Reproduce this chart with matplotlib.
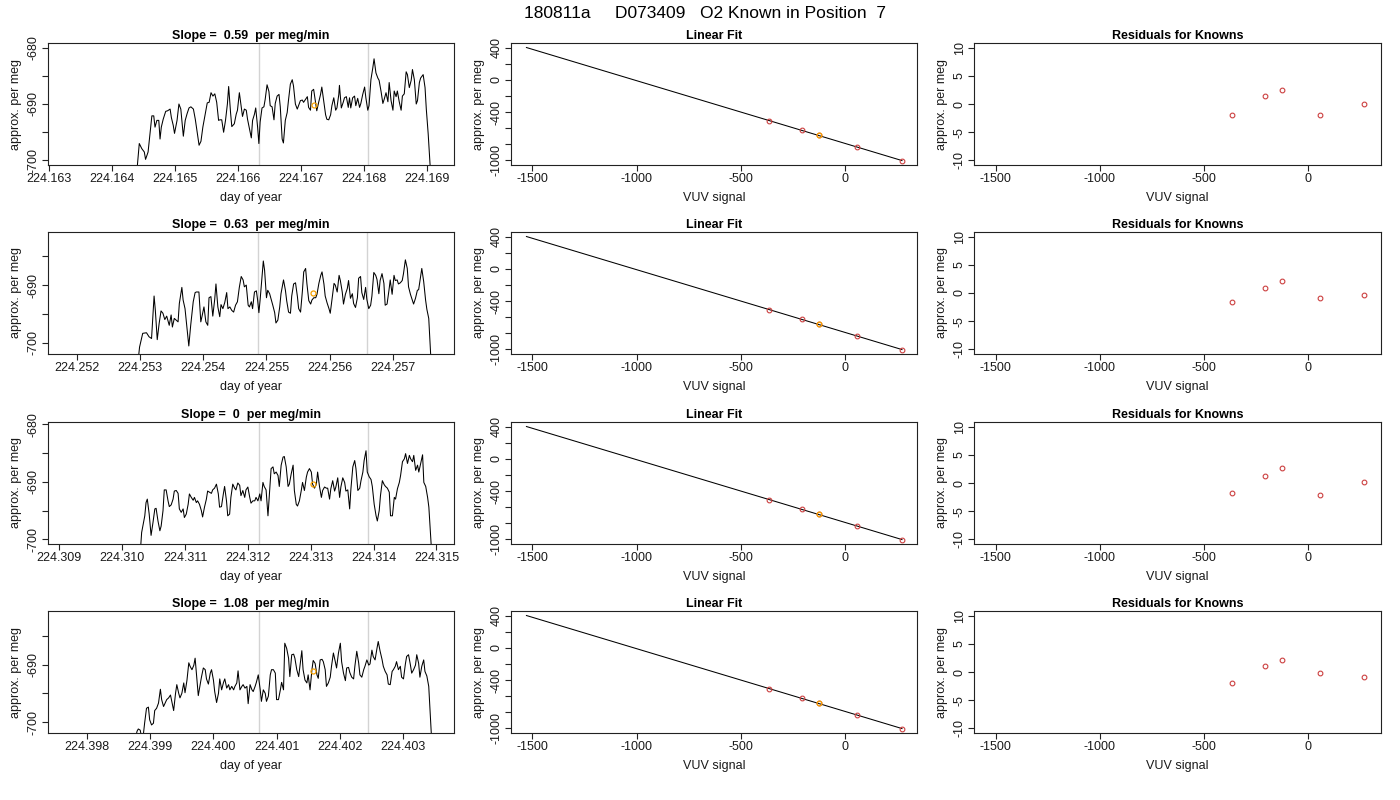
import matplotlib
matplotlib.use("Agg")
import matplotlib.pyplot as plt
import numpy as np

plt.rcParams['font.family'] = ['Liberation Sans', 'DejaVu Sans']

# ---------------- data ----------------
main_title = "180811a     D073409   O2 Known in Position  7"
slopes = ["0.59", "0.63", "0", "1.08"]

# time series (day of year, approx. per meg)
t1 = [224.16325, 224.16436, 224.16443, 224.16447, 224.16451, 224.16453, 224.16457, 224.16460, 224.16463, 224.16466,
      224.16468, 224.16471, 224.16474, 224.16476, 224.16478, 224.16481, 224.16485, 224.16488, 224.16492, 224.16494,
      224.16497, 224.16499, 224.16503, 224.16506, 224.16509, 224.16513, 224.16516, 224.16519, 224.16522, 224.16525,
      224.16529, 224.16532, 224.16535, 224.16538, 224.16541, 224.16544, 224.16548, 224.16551, 224.16554, 224.16557,
      224.16560, 224.16563, 224.16566, 224.16569, 224.16571, 224.16574, 224.16577, 224.16580, 224.16583, 224.16585,
      224.16588, 224.16590, 224.16594, 224.16597, 224.16599, 224.16602, 224.16605, 224.16607, 224.16610, 224.16613,
      224.16615, 224.16618, 224.16621, 224.16623, 224.16626, 224.16628, 224.16631, 224.16633, 224.16635, 224.16638,
      224.16641, 224.16643, 224.16646, 224.16649, 224.16651, 224.16654, 224.16657, 224.16659, 224.16662, 224.16665,
      224.16667, 224.16670, 224.16672, 224.16675, 224.16678, 224.16680, 224.16683, 224.16686, 224.16688, 224.16691,
      224.16694, 224.16696, 224.16699, 224.16702, 224.16704, 224.16707, 224.16710, 224.16712, 224.16715, 224.16717,
      224.16720, 224.16723, 224.16725, 224.16728, 224.16731, 224.16733, 224.16736, 224.16739, 224.16741, 224.16744,
      224.16747, 224.16749, 224.16752, 224.16755, 224.16757, 224.16760, 224.16761, 224.16764, 224.16767, 224.16769,
      224.16772, 224.16775, 224.16777, 224.16779, 224.16782, 224.16785, 224.16787, 224.16790, 224.16793, 224.16795,
      224.16798, 224.16801, 224.16803, 224.16806, 224.16808, 224.16811, 224.16814, 224.16816, 224.16819, 224.16822,
      224.16824, 224.16827, 224.16830, 224.16832, 224.16835, 224.16838, 224.16840, 224.16843, 224.16846, 224.16848,
      224.16851, 224.16853, 224.16856, 224.16859, 224.16861, 224.16864, 224.16867, 224.16869, 224.16872, 224.16875,
      224.16877, 224.16880, 224.16883, 224.16885, 224.16888, 224.16890, 224.16894, 224.16897, 224.16899, 224.16902,
      224.16905, 224.16912]
y1 = [-760.0, -706.0, -697.0, -697.9, -698.5, -699.8, -698.5, -695.3, -692.1, -692.1,
      -694.1, -692.9, -692.9, -696.2, -694.1, -692.7, -691.3, -691.2, -690.9, -692.4,
      -693.8, -695.2, -692.9, -690.0, -690.9, -695.7, -692.9, -691.7, -690.7, -690.5,
      -690.9, -692.7, -695.0, -697.3, -696.6, -694.1, -691.7, -689.8, -689.7, -688.0,
      -688.6, -688.2, -689.7, -692.9, -692.8, -692.8, -695.0, -692.9, -690.0, -686.9,
      -691.5, -694.0, -693.5, -691.8, -691.1, -688.0, -690.6, -692.2, -690.9, -691.1,
      -692.7, -694.4, -696.0, -692.9, -691.8, -690.7, -694.1, -697.0, -693.2, -690.7,
      -690.5, -689.2, -686.6, -687.8, -690.3, -690.5, -692.8, -689.9, -688.6, -688.3,
      -690.5, -696.2, -696.9, -692.9, -691.5, -689.4, -686.5, -685.7, -686.8, -690.0,
      -690.9, -690.3, -689.4, -689.3, -689.7, -689.2, -688.7, -690.6, -691.1, -687.7,
      -687.4, -689.7, -691.2, -689.7, -688.3, -687.0, -689.4, -691.9, -692.7, -692.8,
      -691.9, -690.3, -688.9, -691.1, -690.7, -688.3, -686.7, -690.7, -689.7, -688.9,
      -688.7, -690.6, -688.9, -690.7, -688.9, -688.6, -690.3, -689.0, -690.6, -689.9,
      -688.3, -687.0, -688.9, -691.1, -690.3, -685.7, -683.6, -682.0, -684.5, -685.4,
      -685.8, -687.7, -689.9, -689.2, -688.0, -689.6, -686.2, -689.4, -691.1, -687.7,
      -688.7, -687.7, -689.6, -691.1, -688.6, -688.2, -684.3, -684.8, -687.1, -685.8,
      -683.9, -685.7, -690.0, -689.4, -686.2, -685.4, -684.8, -687.1, -690.9, -695.3,
      -700.8, -720.0]

t2 = [224.25160, 224.25294, 224.25299, 224.25304, 224.25310, 224.25314, 224.25318, 224.25322, 224.25324, 224.25327,
      224.25330, 224.25333, 224.25336, 224.25339, 224.25342, 224.25346, 224.25349, 224.25351, 224.25354, 224.25357,
      224.25360, 224.25362, 224.25366, 224.25368, 224.25371, 224.25374, 224.25377, 224.25380, 224.25384, 224.25387,
      224.25389, 224.25393, 224.25396, 224.25398, 224.25401, 224.25404, 224.25407, 224.25409, 224.25412, 224.25415,
      224.25418, 224.25420, 224.25423, 224.25426, 224.25428, 224.25431, 224.25434, 224.25437, 224.25439, 224.25442,
      224.25445, 224.25448, 224.25451, 224.25454, 224.25457, 224.25460, 224.25463, 224.25465, 224.25468, 224.25471,
      224.25473, 224.25476, 224.25478, 224.25481, 224.25484, 224.25486, 224.25488, 224.25490, 224.25493, 224.25495,
      224.25497, 224.25500, 224.25502, 224.25505, 224.25507, 224.25510, 224.25513, 224.25515, 224.25518, 224.25521,
      224.25523, 224.25527, 224.25530, 224.25532, 224.25535, 224.25538, 224.25540, 224.25543, 224.25546, 224.25549,
      224.25551, 224.25554, 224.25557, 224.25559, 224.25562, 224.25564, 224.25567, 224.25570, 224.25572, 224.25575,
      224.25578, 224.25580, 224.25583, 224.25586, 224.25588, 224.25591, 224.25593, 224.25596, 224.25599, 224.25601,
      224.25604, 224.25607, 224.25609, 224.25612, 224.25615, 224.25617, 224.25620, 224.25622, 224.25625, 224.25628,
      224.25630, 224.25633, 224.25636, 224.25638, 224.25641, 224.25644, 224.25646, 224.25649, 224.25651, 224.25654,
      224.25657, 224.25659, 224.25662, 224.25665, 224.25667, 224.25670, 224.25673, 224.25675, 224.25678, 224.25680,
      224.25683, 224.25686, 224.25688, 224.25691, 224.25694, 224.25696, 224.25699, 224.25702, 224.25704, 224.25707,
      224.25709, 224.25712, 224.25715, 224.25717, 224.25720, 224.25723, 224.25725, 224.25728, 224.25731, 224.25733,
      224.25736, 224.25739, 224.25741, 224.25744, 224.25746, 224.25749, 224.25752, 224.25754, 224.25757, 224.25760,
      224.25766]
y2 = [-760.0, -706.0, -700.8, -698.4, -698.3, -699.0, -699.3, -691.9, -694.4, -699.5,
      -696.7, -694.5, -694.9, -696.0, -695.4, -697.0, -695.2, -697.3, -695.8, -696.1,
      -696.4, -693.2, -690.4, -692.6, -694.1, -697.3, -700.6, -697.0, -692.9, -691.3,
      -691.2, -691.2, -696.4, -695.4, -693.8, -696.4, -697.0, -692.2, -692.0, -695.4,
      -692.5, -689.8, -693.8, -695.5, -693.4, -694.1, -693.0, -691.3, -694.1, -693.8,
      -694.4, -694.7, -693.5, -692.9, -690.4, -688.5, -689.1, -690.3, -690.0, -693.5,
      -693.8, -692.9, -694.1, -691.2, -691.0, -692.6, -694.8, -692.5, -688.5, -685.8,
      -687.4, -692.2, -690.9, -691.5, -692.3, -693.5, -694.8, -696.6, -696.1, -693.8,
      -691.5, -689.1, -690.9, -692.7, -694.7, -694.9, -691.9, -689.8, -689.6, -692.0,
      -694.1, -694.7, -690.9, -687.7, -687.1, -689.7, -692.7, -693.3, -692.6, -692.2,
      -692.2, -691.6, -689.7, -688.3, -687.7, -689.8, -691.9, -693.1, -694.1, -694.9,
      -692.3, -689.7, -690.0, -691.2, -688.3, -689.2, -691.2, -693.3, -691.6, -690.6,
      -689.2, -692.3, -691.5, -693.2, -693.9, -692.2, -688.8, -688.5, -691.3, -692.5,
      -690.4, -692.5, -694.1, -693.5, -691.9, -687.8, -688.3, -689.0, -691.5, -689.2,
      -688.0, -689.7, -693.5, -693.3, -690.9, -689.1, -691.6, -688.3, -689.2, -689.1,
      -689.8, -689.6, -689.2, -688.0, -685.6, -687.1, -690.3, -691.6, -692.6, -693.3,
      -692.3, -690.9, -690.8, -688.5, -687.1, -689.4, -692.6, -694.2, -695.8, -702.0,
      -720.0]

t3 = [224.30890, 224.31024, 224.31031, 224.31034, 224.31036, 224.31038, 224.31040, 224.31043, 224.31046, 224.31049,
      224.31052, 224.31054, 224.31057, 224.31060, 224.31062, 224.31065, 224.31067, 224.31070, 224.31073, 224.31075,
      224.31078, 224.31081, 224.31083, 224.31086, 224.31089, 224.31091, 224.31094, 224.31097, 224.31099, 224.31102,
      224.31105, 224.31107, 224.31110, 224.31113, 224.31115, 224.31118, 224.31120, 224.31123, 224.31126, 224.31128,
      224.31131, 224.31134, 224.31136, 224.31139, 224.31142, 224.31144, 224.31147, 224.31150, 224.31153, 224.31155,
      224.31158, 224.31161, 224.31163, 224.31166, 224.31168, 224.31171, 224.31173, 224.31176, 224.31179, 224.31181,
      224.31184, 224.31187, 224.31189, 224.31192, 224.31195, 224.31197, 224.31200, 224.31203, 224.31205, 224.31208,
      224.31211, 224.31213, 224.31216, 224.31219, 224.31221, 224.31224, 224.31226, 224.31229, 224.31232, 224.31234,
      224.31237, 224.31240, 224.31242, 224.31245, 224.31248, 224.31250, 224.31253, 224.31256, 224.31258, 224.31261,
      224.31264, 224.31266, 224.31269, 224.31272, 224.31274, 224.31277, 224.31279, 224.31282, 224.31285, 224.31287,
      224.31290, 224.31293, 224.31295, 224.31298, 224.31301, 224.31303, 224.31306, 224.31309, 224.31311, 224.31314,
      224.31317, 224.31319, 224.31322, 224.31325, 224.31327, 224.31330, 224.31332, 224.31335, 224.31338, 224.31340,
      224.31343, 224.31346, 224.31348, 224.31351, 224.31354, 224.31356, 224.31359, 224.31362, 224.31364, 224.31367,
      224.31370, 224.31372, 224.31375, 224.31378, 224.31380, 224.31383, 224.31385, 224.31388, 224.31390, 224.31393,
      224.31396, 224.31398, 224.31401, 224.31404, 224.31406, 224.31409, 224.31411, 224.31414, 224.31417, 224.31419,
      224.31422, 224.31425, 224.31427, 224.31430, 224.31433, 224.31435, 224.31438, 224.31441, 224.31443, 224.31446,
      224.31449, 224.31451, 224.31454, 224.31457, 224.31459, 224.31462, 224.31464, 224.31467, 224.31470, 224.31472,
      224.31475, 224.31478, 224.31480, 224.31483, 224.31486, 224.31488, 224.31492, 224.31498]
y3 = [-760.0, -710.0, -698.8, -697.1, -695.9, -693.6, -693.0, -695.6, -699.3, -697.1,
      -694.7, -694.6, -696.8, -698.5, -697.7, -695.0, -691.4, -691.4, -693.3, -694.3,
      -694.0, -693.0, -691.6, -691.5, -692.0, -694.7, -695.3, -694.7, -696.2, -695.6,
      -693.9, -692.1, -692.7, -693.2, -692.7, -693.6, -693.3, -693.9, -695.0, -696.1,
      -694.4, -693.0, -691.6, -691.8, -692.0, -691.4, -691.1, -690.4, -692.1, -694.4,
      -694.3, -692.1, -690.8, -693.3, -695.9, -695.6, -692.7, -690.4, -691.1, -691.4,
      -690.2, -690.6, -692.4, -691.5, -692.7, -691.4, -690.9, -692.7, -693.7, -693.3,
      -693.3, -692.7, -693.3, -692.1, -693.3, -690.1, -690.8, -691.4, -695.9, -692.7,
      -687.7, -687.4, -688.6, -688.3, -688.9, -690.8, -687.1, -685.7, -685.6, -687.4,
      -690.8, -690.4, -688.6, -687.1, -691.5, -693.9, -694.2, -693.3, -691.5, -690.1,
      -691.5, -689.2, -688.3, -687.7, -688.3, -690.4, -691.1, -690.4, -688.3, -690.8,
      -692.7, -691.5, -690.9, -691.1, -691.1, -693.0, -691.2, -689.8, -691.6, -690.9,
      -689.3, -692.7, -690.9, -689.3, -690.1, -691.6, -691.4, -694.7, -691.2, -687.4,
      -686.3, -687.7, -691.5, -691.1, -689.8, -688.3, -686.3, -684.6, -688.3, -689.1,
      -689.6, -690.8, -693.9, -695.9, -696.8, -695.0, -692.4, -689.8, -690.5, -690.8,
      -691.1, -691.8, -695.9, -695.9, -692.7, -693.0, -691.2, -690.1, -688.9, -686.5,
      -686.0, -685.1, -686.8, -685.4, -686.0, -686.5, -685.4, -688.0, -687.1, -688.3,
      -686.8, -685.3, -690.1, -690.8, -692.7, -694.4, -701.5, -720.0]

t4 = [224.39745, 224.39870, 224.39879, 224.39881, 224.39884, 224.39886, 224.39889, 224.39891, 224.39894, 224.39897,
      224.39899, 224.39902, 224.39905, 224.39907, 224.39910, 224.39913, 224.39916, 224.39918, 224.39921, 224.39924,
      224.39926, 224.39929, 224.39932, 224.39934, 224.39937, 224.39940, 224.39942, 224.39945, 224.39947, 224.39950,
      224.39953, 224.39955, 224.39958, 224.39961, 224.39963, 224.39966, 224.39969, 224.39971, 224.39973, 224.39976,
      224.39979, 224.39981, 224.39984, 224.39987, 224.39989, 224.39992, 224.39995, 224.39997, 224.40000, 224.40002,
      224.40005, 224.40008, 224.40010, 224.40013, 224.40016, 224.40018, 224.40021, 224.40024, 224.40026, 224.40029,
      224.40032, 224.40034, 224.40037, 224.40039, 224.40042, 224.40045, 224.40047, 224.40050, 224.40053, 224.40055,
      224.40058, 224.40061, 224.40063, 224.40066, 224.40068, 224.40071, 224.40074, 224.40076, 224.40079, 224.40082,
      224.40084, 224.40087, 224.40090, 224.40092, 224.40095, 224.40098, 224.40100, 224.40103, 224.40106, 224.40108,
      224.40111, 224.40113, 224.40116, 224.40119, 224.40121, 224.40124, 224.40127, 224.40129, 224.40132, 224.40135,
      224.40137, 224.40140, 224.40142, 224.40145, 224.40148, 224.40150, 224.40153, 224.40156, 224.40158, 224.40161,
      224.40164, 224.40166, 224.40169, 224.40172, 224.40174, 224.40177, 224.40179, 224.40182, 224.40185, 224.40187,
      224.40190, 224.40193, 224.40195, 224.40198, 224.40201, 224.40203, 224.40206, 224.40209, 224.40211, 224.40214,
      224.40216, 224.40219, 224.40222, 224.40224, 224.40227, 224.40230, 224.40232, 224.40235, 224.40238, 224.40240,
      224.40243, 224.40246, 224.40248, 224.40251, 224.40253, 224.40256, 224.40259, 224.40261, 224.40264, 224.40267,
      224.40269, 224.40272, 224.40275, 224.40277, 224.40280, 224.40283, 224.40285, 224.40288, 224.40290, 224.40293,
      224.40296, 224.40298, 224.40301, 224.40304, 224.40306, 224.40309, 224.40312, 224.40314, 224.40317, 224.40320,
      224.40322, 224.40325, 224.40327, 224.40330, 224.40333, 224.40335, 224.40338, 224.40341, 224.40345, 224.40352]
y4 = [-760.0, -706.0, -701.6, -701.2, -701.4, -702.5, -702.2, -700.2, -697.6, -697.4,
      -699.6, -700.5, -700.2, -698.0, -697.6, -696.7, -694.3, -696.1, -697.3, -696.6,
      -696.1, -695.8, -695.3, -696.4, -698.0, -695.0, -693.5, -695.0, -695.8, -695.0,
      -693.2, -694.9, -692.8, -689.7, -690.3, -690.9, -690.1, -688.9, -691.5, -695.4,
      -693.5, -692.2, -690.6, -690.9, -692.5, -693.4, -691.5, -690.9, -692.7, -694.7,
      -696.6, -695.0, -692.5, -694.4, -693.1, -692.5, -694.1, -693.5, -694.4, -693.8,
      -694.4, -693.8, -693.2, -691.1, -694.4, -693.8, -693.5, -694.1, -693.8, -696.8,
      -693.5, -694.4, -694.7, -693.8, -693.1, -691.8, -694.3, -696.4, -694.4, -695.0,
      -696.4, -695.5, -691.8, -690.9, -690.9, -691.5, -696.1, -696.1, -694.4, -693.1,
      -694.4, -686.3, -687.2, -688.9, -692.1, -688.3, -688.2, -688.9, -690.9, -692.1,
      -690.3, -687.6, -690.9, -692.7, -693.2, -691.8, -694.4, -690.9, -689.3, -689.8,
      -691.8, -692.4, -689.2, -689.1, -689.5, -690.9, -693.8, -693.2, -692.2, -690.3,
      -688.0, -689.5, -690.6, -688.0, -686.3, -689.5, -691.5, -692.8, -690.6, -690.5,
      -691.4, -692.2, -692.5, -690.3, -687.7, -689.7, -691.8, -692.2, -690.9, -690.3,
      -689.2, -690.1, -689.9, -687.5, -688.6, -689.2, -687.2, -686.0, -687.7, -689.1,
      -690.3, -691.2, -691.8, -693.4, -693.5, -691.2, -690.9, -690.3, -689.5, -690.9,
      -690.3, -692.2, -692.5, -689.9, -688.6, -688.3, -690.1, -691.5, -690.9, -690.1,
      -688.3, -689.8, -692.2, -690.3, -689.2, -691.2, -692.0, -693.8, -701.9, -720.0]

series_t = [t1, t2, t3, t4]
series_y = [y1, y2, y3, y4]

# x-limits and y-limits of each time panel
time_xlim = [(224.16298, 224.16943), (224.25154, 224.25797), (224.30882, 224.31528), (224.39738, 224.40381)]
time_ylim = [(-700.8, -679.2), (-702.0, -680.75), (-700.8, -679.6), (-701.9, -680.7)]
time_xticks = [[224.163, 224.164, 224.165, 224.166, 224.167, 224.168, 224.169],
               [224.252, 224.253, 224.254, 224.255, 224.256, 224.257],
               [224.309, 224.310, 224.311, 224.312, 224.313, 224.314, 224.315],
               [224.398, 224.399, 224.400, 224.401, 224.402, 224.403]]
# vertical markers (start/end of averaging window)
vlines = [(224.16633, 224.16806), (224.25487, 224.25660), (224.31217, 224.31391), (224.40072, 224.40245)]
# sample estimate (orange)
sample_t = [224.16720, 224.25573, 224.31304, 224.40158]
sample_y = [-690.2, -691.4, -690.3, -691.1]

# knowns: VUV signal, per meg
known_vuv = [-363, -206, -126, 57, 272]
known_permeg = [-508.6, -627.6, -688.8, -835.5, -1001.0]
fit_x = [-1528, 272]
fit_y = [400, -1001]
sample_vuv = -126
sample_permeg_fit = -690.0

residuals = [[-1.9, 1.4, 2.5, -1.9, 0.0],
             [-1.6, 0.8, 2.1, -0.9, -0.4],
             [-1.8, 1.2, 2.6, -2.1, 0.1],
             [-1.9, 1.0, 2.1, -0.2, -0.8]]

# ---------------- figure ----------------
W, H = 1400, 800
fig = plt.figure(figsize=(W / 100, H / 100), dpi=100)

col_left = [48, 511, 974]
col_w = [406, 406, 407]
row_top = [43, 232, 422, 611]
row_h = 122

FS = 9
RED = '#CC4040'
ORANGE = '#F5A000'
TXT = '#1a1a1a'


def style(ax):
    for s in ax.spines.values():
        s.set_linewidth(0.8)
        s.set_color('#222222')
    ax.tick_params(direction='out', length=4, width=0.8, labelsize=FS, pad=2,
                   colors='#222222', labelcolor=TXT)
    ax.tick_params(axis='y', labelrotation=90)
    for lab in ax.get_yticklabels():
        lab.set_va('center')


def make_ax(r, c):
    left = col_left[c] / W
    bottom = 1 - (row_top[r] + row_h) / H
    return fig.add_axes([left, bottom, col_w[c] / W, row_h / H])


def labels_every(ticks, keep):
    return [("%g" % t if t in keep else "") for t in ticks]


for r in range(4):
    # ---- time series ----
    ax = make_ax(r, 0)
    for v in vlines[r]:
        ax.axvline(v, color='#D3D3D3', lw=1.0, zorder=1)
    ax.plot(series_t[r], series_y[r], color='black', lw=0.75, zorder=2)
    ax.plot([sample_t[r]], [sample_y[r]], 'o', mfc='none', mec=ORANGE, ms=3.6, mew=0.9, zorder=3)
    ax.set_xlim(*time_xlim[r])
    ax.set_ylim(*time_ylim[r])
    ax.set_xticks(time_xticks[r])
    ax.set_xticklabels(["%.3f" % t for t in time_xticks[r]])
    yt = [v for v in [-700, -695, -690, -685, -680] if time_ylim[r][0] <= v <= time_ylim[r][1]]
    ax.set_yticks(yt)
    ax.set_yticklabels(labels_every(yt, [-700, -690, -680]))
    ax.set_xlabel("day of year", fontsize=FS, labelpad=5, color=TXT)
    ax.set_ylabel("approx. per meg", fontsize=FS, labelpad=4, color=TXT)
    ax.set_title("Slope =  %s  per meg/min" % slopes[r], fontsize=FS, fontweight='bold', pad=3)
    style(ax)

    # ---- linear fit ----
    ax = make_ax(r, 1)
    ax.plot(fit_x, fit_y, color='black', lw=0.75, zorder=1)
    ax.plot(known_vuv, known_permeg, 'o', mfc='none', mec=RED, ms=3.4, mew=0.8, zorder=2)
    ax.plot([sample_vuv], [sample_permeg_fit], 'o', mfc='none', mec=ORANGE, ms=3.4, mew=0.9, zorder=3)
    ax.set_xlim(-1602, 344)
    ax.set_ylim(-1056, 456)
    ax.set_xticks([-1500, -1000, -500, 0])
    ax.set_xticklabels(["-1500", "-1000", "-500", "0"])
    lt = [-1000, -800, -600, -400, -200, 0, 200, 400]
    ax.set_yticks(lt)
    ax.set_yticklabels(labels_every(lt, [-1000, -400, 0, 400]))
    ax.set_xlabel("VUV signal", fontsize=FS, labelpad=5, color=TXT)
    ax.set_ylabel("approx. per meg", fontsize=FS, labelpad=4, color=TXT)
    ax.set_title("Linear Fit", fontsize=FS, fontweight='bold', pad=3)
    style(ax)

    # ---- residuals ----
    ax = make_ax(r, 2)
    ax.plot(known_vuv, residuals[r], 'o', mfc='none', mec=RED, ms=3.4, mew=0.8)
    ax.set_xlim(-1605, 352)
    ax.set_ylim(-10.8, 10.8)
    ax.set_xticks([-1500, -1000, -500, 0])
    ax.set_xticklabels(["-1500", "-1000", "-500", "0"])
    ax.set_yticks([-10, -5, 0, 5, 10])
    ax.set_yticklabels(["-10", "-5", "0", "5", "10"])
    ax.set_xlabel("VUV signal", fontsize=FS, labelpad=5, color=TXT)
    ax.set_ylabel("approx. per meg", fontsize=FS, labelpad=4, color=TXT)
    ax.set_title("Residuals for Knowns", fontsize=FS, fontweight='bold', pad=3)
    style(ax)

fig.text(705 / W, 1 - 13 / H, main_title, ha='center', va='center', fontsize=12.5)

fig.savefig("out.png", dpi=100)
